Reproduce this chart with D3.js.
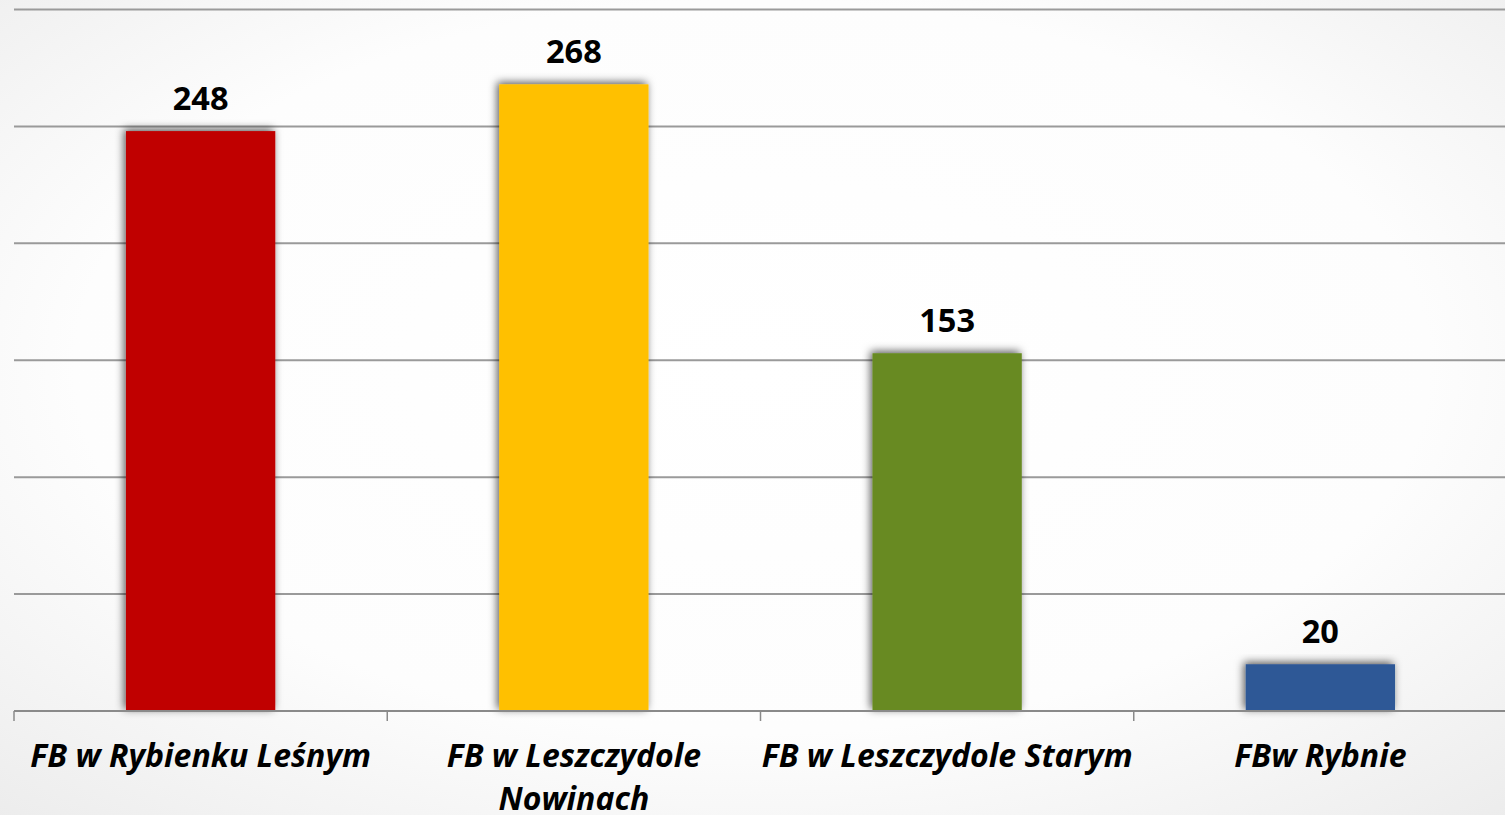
<!DOCTYPE html>
<html><head><meta charset="utf-8">
<script src="https://cdn.jsdelivr.net/npm/d3@7"></script>
<style>html,body{margin:0;padding:0;overflow:hidden;}svg{display:block;}</style>
</head><body>
<script>
const categories = ["FB w Rybienku Leśnym", "FB w Leszczydole Nowinach", "FB w Leszczydole Starym", "FBw Rybnie"];
const values = [248, 268, 153, 20];
const colors = ["#c00000", "#ffc000", "#678a22", "#2f5896"];
const yTicks = [0, 50, 100, 150, 200, 250, 300];

const W = 1505, H = 815;
const svg = d3.select("body").append("svg").attr("width", W).attr("height", H);
const defs = svg.append("defs");
const rg = defs.append("radialGradient").attr("id", "bg").attr("cx", "50%").attr("cy", "45%").attr("r", "75%");
rg.append("stop").attr("offset", "0%").attr("stop-color", "#ffffff");
rg.append("stop").attr("offset", "60%").attr("stop-color", "#fdfdfd");
rg.append("stop").attr("offset", "100%").attr("stop-color", "#ececec");
const f = defs.append("filter").attr("id", "sh").attr("x", "-20%").attr("y", "-20%").attr("width", "140%").attr("height", "140%");
f.append("feDropShadow").attr("dx", -2).attr("dy", -2).attr("stdDeviation", 4).attr("flood-color", "#000").attr("flood-opacity", 0.65);

svg.append("rect").attr("width", W).attr("height", H).attr("fill", "url(#bg)");

const x = d3.scaleBand().domain(categories).range([14, 1507]).paddingInner(0.6).paddingOuter(0.3);
const y = d3.scaleLinear().domain([0, 300]).range([711, 9.5]);

// gridlines
svg.append("g").selectAll("line").data(yTicks.slice(1)).join("line")
  .attr("x1", 14).attr("x2", W).attr("y1", d => y(d)).attr("y2", d => y(d))
  .attr("stroke", "#9a9a9a").attr("stroke-width", 2);

// bars
svg.append("g").selectAll("rect").data(values).join("rect")
  .attr("x", (d, i) => x(categories[i])).attr("width", x.bandwidth())
  .attr("y", d => y(d)).attr("height", d => y(0) - y(d))
  .attr("fill", (d, i) => colors[i]).attr("filter", "url(#sh)");

// axis baseline + ticks
const step = x.step();
const axis = svg.append("g");
axis.append("line").attr("x1", 14).attr("x2", W).attr("y1", y(0)).attr("y2", y(0)).attr("stroke", "#8a8a8a").attr("stroke-width", 2);
axis.selectAll("line.t").data(categories).join("line").attr("class", "t")
  .attr("x1", d => x(d) - step * 0.3).attr("x2", d => x(d) - step * 0.3)
  .attr("y1", y(0)).attr("y2", y(0) + 10).attr("stroke", "#8a8a8a").attr("stroke-width", 1.5);

// value labels
svg.append("g").selectAll("text").data(values).join("text")
  .attr("x", (d, i) => x(categories[i]) + x.bandwidth() / 2).attr("y", d => y(d) - 21)
  .attr("text-anchor", "middle").attr("font-family", "Open Sans").attr("font-weight", "bold")
  .attr("font-size", 32.5).attr("fill", "#000").text(d => d);

// category labels
const lines = [["FB w Rybienku Leśnym"], ["FB w Leszczydole", "Nowinach"], ["FB w Leszczydole Starym"], ["FBw Rybnie"]];
const cl = svg.append("g").selectAll("text").data(categories).join("text")
  .attr("x", d => x(d) + x.bandwidth() / 2).attr("y", 767)
  .attr("text-anchor", "middle").attr("font-family", "Open Sans").attr("font-weight", "bold")
  .attr("font-style", "italic").attr("font-size", 32).attr("fill", "#000");
cl.each(function(d, i) {
  d3.select(this).selectAll("tspan").data(lines[i]).join("tspan")
    .attr("x", x(d) + x.bandwidth() / 2).attr("dy", (t, j) => j === 0 ? 0 : 43).text(t => t);
});
</script>
</body></html>
